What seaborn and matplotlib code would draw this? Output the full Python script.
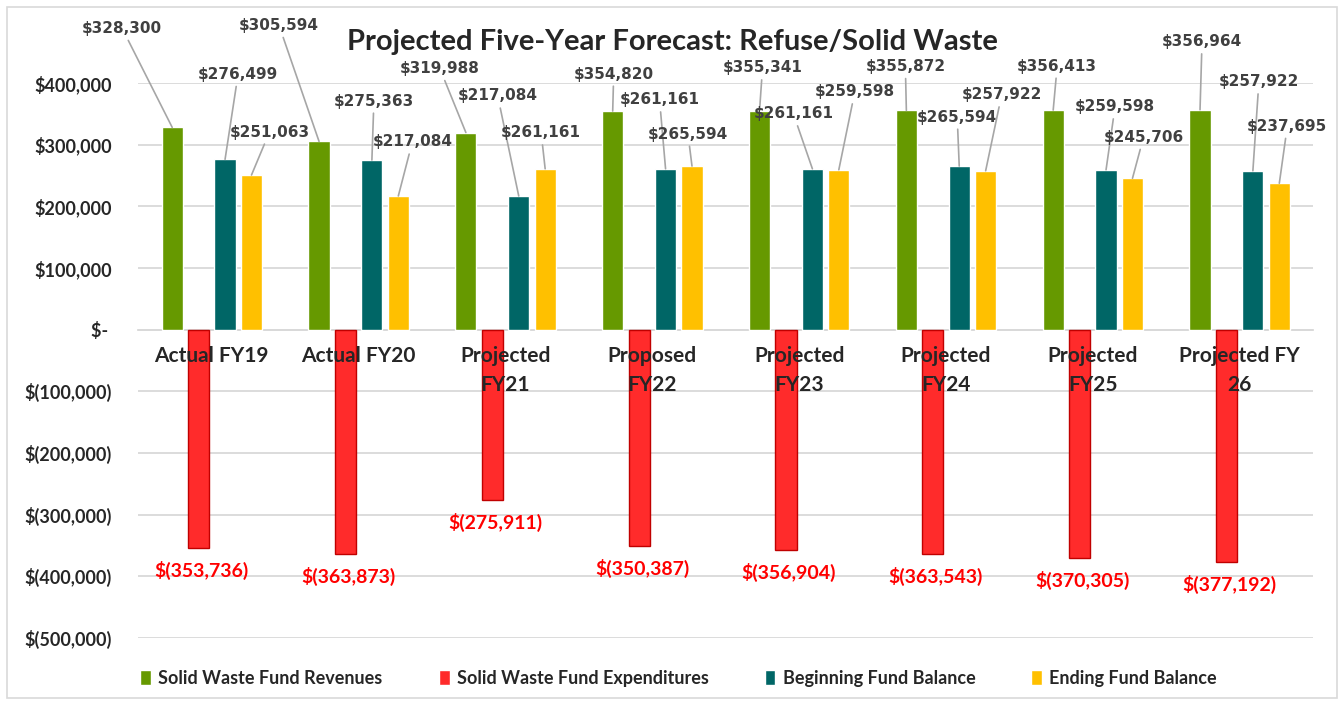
import matplotlib
matplotlib.use('Agg')
import matplotlib.pyplot as plt
import seaborn as sns
import pandas as pd
from matplotlib.ticker import FuncFormatter, MultipleLocator
from matplotlib.patches import Rectangle

years = ['Actual FY19', 'Actual FY20', 'Projected\nFY21', 'Proposed\nFY22',
         'Projected\nFY23', 'Projected\nFY24', 'Projected\nFY25', 'Projected FY\n26']
revenues = [328300, 305594, 319988, 354820, 355341, 355872, 356413, 356964]
expenditures = [-353736, -363873, -275911, -350387, -356904, -363543, -370305, -377192]
beginning = [276499, 275363, 217084, 261161, 261161, 265594, 259598, 257922]
ending = [251063, 217084, 261161, 265594, 259598, 257922, 245706, 237695]
series = ['Solid Waste Fund Revenues', 'Solid Waste Fund Expenditures',
          'Beginning Fund Balance', 'Ending Fund Balance']
colors = ['#669900', '#FF2B2B', '#006666', '#FFC000']

# where the value labels sit, pixels from the bar end (dx, dy)
rev_off = [(-50, 99), (-40, 116), (-26, 64), (1, 37), (3, 43), (-1, 44), (4, 44), (2, 68)]
beg_off = [(13, 85), (2, 59), (-21, 100), (-6, 69), (-19, 55), (-2, 49), (9, 63), (6, 89)]
end_off = [(18, 43), (14, 54), (-4, 36), (-4, 32), (16, 78), (16, 76), (11, 41), (8, 57)]

df = pd.DataFrame({
    'year': years * 4,
    'series': [s for s in series for _ in years],
    'value': revenues + expenditures + beginning + ending,
})

sns.set_style('white')
plt.rcParams['font.family'] = ['Lato', 'DejaVu Sans']

fig = plt.figure(figsize=(13.44, 7.05), dpi=100)
ax = fig.add_axes([0.103, 0.095, 0.874, 0.787])

sns.barplot(data=df, x='year', y='value', hue='series', order=years, hue_order=series,
            palette=colors, saturation=1, width=0.72, gap=0.2, errorbar=None, ax=ax)

ax.set_ylim(-500000, 400000)
ax.set_xlim(-0.5, len(years) - 0.5)
ax.yaxis.set_major_locator(MultipleLocator(100000))


def money(v, pos=None):
    if v == 0:
        return '$- '
    if v < 0:
        return '$({:,.0f})'.format(-v)
    return '${:,.0f}'.format(v)


ax.yaxis.set_major_formatter(FuncFormatter(money))
ax.grid(axis='y', color='#D9D9D9', linewidth=1.3)
ax.grid(axis='x', visible=False)
ax.set_axisbelow(True)
ax.xaxis.set_zorder(5)
for s in ['top', 'right', 'left']:
    ax.spines[s].set_visible(False)
ax.spines['bottom'].set_position(('data', 0))
ax.spines['bottom'].set_color('#D9D9D9')
ax.spines['bottom'].set_linewidth(1.3)
ax.spines['bottom'].set_zorder(0.5)
ax.tick_params(axis='both', length=0)
ax.tick_params(axis='x', pad=12)
ax.tick_params(axis='y', pad=19)
ax.set_xlabel('')
ax.set_ylabel('')
for t in ax.get_xticklabels():
    t.set_fontsize(15)
    t.set_fontweight('bold')
    t.set_linespacing(1.55)
for t in ax.get_yticklabels():
    t.set_fontsize(13)
    t.set_fontweight('bold')

# value labels
offsets = [rev_off, None, beg_off, end_off]
for k, cont in enumerate(ax.containers):
    for i, bar in enumerate(cont):
        x = bar.get_x() + bar.get_width() / 2
        v = bar.get_height()
        if k == 1:
            bar.set_edgecolor('#C00000')
            bar.set_linewidth(1)
            ax.annotate(money(v), (x, v), xytext=(3, -13), textcoords='offset pixels',
                        ha='center', va='top', color='#FF0000', fontsize=14,
                        fontweight='bold', annotation_clip=False)
        else:
            dx, dy = offsets[k][i]
            ax.annotate(money(v), (x, v), xytext=(dx, dy), textcoords='offset pixels',
                        ha='center', va='center', color='#404040', fontsize=11,
                        fontweight='bold', family='DejaVu Sans', annotation_clip=False,
                        arrowprops=dict(arrowstyle='-', color='#A6A6A6', lw=1.2,
                                        shrinkA=1, shrinkB=0))

handles, labels = ax.get_legend_handles_labels()
ax.get_legend().remove()
fig.legend(handles, labels, loc='center', bbox_to_anchor=(0.505, 0.038), ncol=4,
           frameon=False, handlelength=0.6, handleheight=0.9, handletextpad=0.4,
           columnspacing=3.1, prop={'weight': 'bold', 'size': 13})

fig.text(0.5, 0.94, 'Projected Five-Year Forecast: Refuse/Solid Waste', ha='center',
         va='center', fontsize=21, fontweight='bold')

fig.patches.append(Rectangle((0.005, 0.01), 0.99, 0.98, transform=fig.transFigure,
                             fill=False, edgecolor='#D9D9D9', linewidth=1.2))

fig.savefig('out.png', dpi=100)
